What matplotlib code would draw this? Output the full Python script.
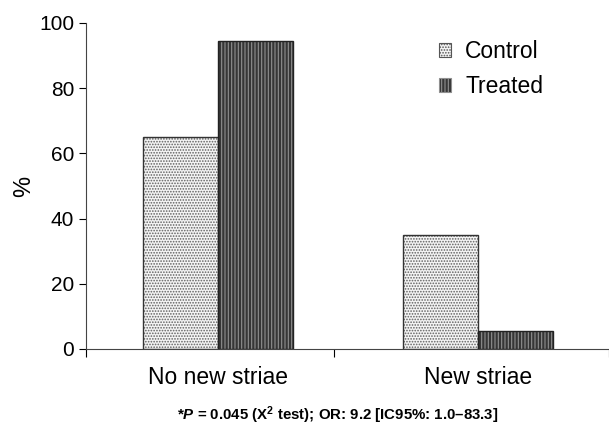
import matplotlib
matplotlib.use('Agg')
import matplotlib.pyplot as plt
from matplotlib.patches import Patch
import numpy as np

plt.rcParams['font.family'] = ['Liberation Sans', 'DejaVu Sans']
plt.rcParams['mathtext.fontset'] = 'custom'
plt.rcParams['mathtext.rm'] = 'Liberation Sans'
plt.rcParams['mathtext.it'] = 'Liberation Sans:italic'
plt.rcParams['mathtext.bf'] = 'Liberation Sans:bold'
plt.rcParams['mathtext.bfit'] = 'Liberation Sans:italic:bold'
plt.rcParams['hatch.linewidth'] = 0.8

categories = ['No new striae', 'New striae']
control = [65, 35]
treated = [94.4, 5.6]

x = np.arange(len(categories))
w = 0.29

fig = plt.figure(figsize=(6.09, 4.28), dpi=100)
ax = fig.add_axes([0.141, 0.1846, 0.859, 0.7617])

# fill + hatch first, then the dark outline on top
ax.bar(x - w/2, control, w, color='#f4f4f4', edgecolor='#606060', hatch='......', linewidth=0)
ax.bar(x + w/2, treated, w, color='#363636', edgecolor='#909090', hatch='|||||', linewidth=0)
ax.bar(x - w/2, control, w, fill=False, edgecolor='#333333', linewidth=1)
ax.bar(x + w/2, treated, w, fill=False, edgecolor='#222222', linewidth=1)

handles = [Patch(facecolor='#f4f4f4', edgecolor='#555555', hatch='......', linewidth=0.8, label='Control'),
           Patch(facecolor='#363636', edgecolor='#909090', hatch='|||||', linewidth=0.8, label='Treated')]
ax.legend(handles=handles, loc='upper left', bbox_to_anchor=(0.635, 1.01), frameon=False,
          fontsize=16.5, handlelength=0.55, handleheight=0.55, handletextpad=0.6, labelspacing=0.5)

ax.set_ylim(0, 100)
ax.set_yticks(np.arange(0, 101, 20))
ax.set_xlim(-0.508, 1.504)
ax.set_xticks([-0.508, 0.446, 1.504])
ax.set_xticklabels(['', '', ''])
ax.tick_params(axis='x', length=6, direction='out')
ax.tick_params(axis='y', length=5, direction='out', labelsize=15)
for s in ['top', 'right']:
    ax.spines[s].set_visible(False)
for s in ['left', 'bottom']:
    ax.spines[s].set_color('#444444')
for i, c in enumerate(categories):
    ax.text(x[i], -5.3, c, ha='center', va='top', fontsize=16.5)
ax.set_ylabel('%', fontsize=17, labelpad=3)

fig.text(0.555, 0.03, r'*$\mathbfit{P}$ = 0.045 (X$^{\mathbf{2}}$ test); OR: 9.2 [IC95%: 1.0–83.3]',
         ha='center', va='center', fontsize=10.8, fontweight='bold')

fig.savefig('out.png', dpi=100)
